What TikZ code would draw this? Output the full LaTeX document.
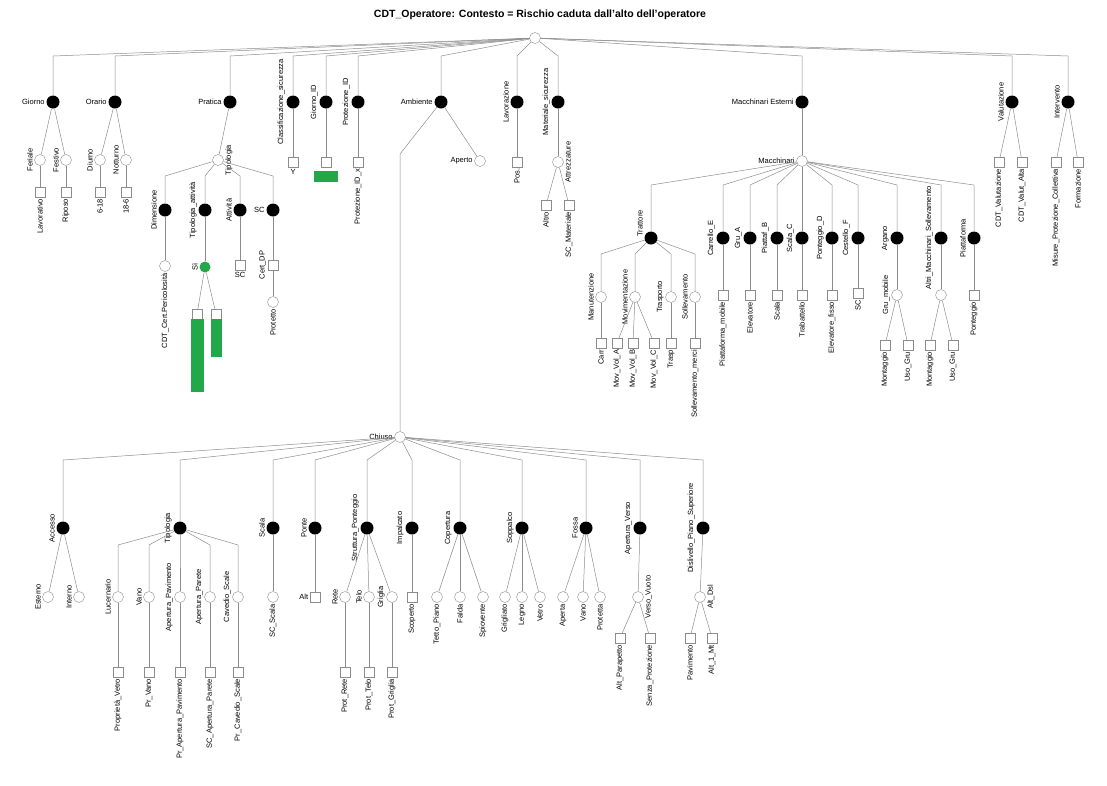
\documentclass[tikz,border=0pt]{standalone}
\usepackage{fontspec}
\setmainfont{Liberation Sans}
\usetikzlibrary{positioning}
\definecolor{mark}{RGB}{34,168,72}
\definecolor{wire}{RGB}{140,140,140}

\begin{document}
\begin{tikzpicture}[x=1pt, y=-1pt,
    hub/.style={circle, fill=black, minimum size=13pt, inner sep=0pt},
    opt/.style={circle, draw=wire, fill=white, minimum size=11pt, inner sep=0pt},
    leaf/.style={rectangle, draw=wire, fill=white, minimum size=10pt, inner sep=0pt},
    flag/.style={rectangle, fill=mark, inner sep=0pt},
    txt/.style={font=\fontsize{7.5}{8.5}\selectfont, inner sep=1.5pt},
    vtxt/.style={txt, rotate=90},
    lv/.style={label={[vtxt, anchor=south]left:#1}},
    rv/.style={label={[vtxt, anchor=north]right:#1}},
    bv/.style={label={[vtxt, anchor=east]below:#1}},
    lh/.style={label={[txt]left:#1}},
    bh/.style={label={[txt]below:#1}},
    link/.style={draw=wire, line width=0.5pt}
]
    \useasboundingbox (0,0) rectangle (1107,785);
    \node[font=\bfseries\fontsize{10.5}{12}\selectfont] (title) at (540,15) {CDT\_Operatore: Contesto = Rischio caduta dall'alto dell'operatore};
    \node[opt] (root) at (535,38) {};
    \coordinate (topbar) at (0,56);

    % primo livello
    \node[hub, lh=Giorno] (giorno) at (53,102) {};
    \node[hub, lh=Orario] (orario) at (115,102) {};
    \node[hub, lh=Pratica] (pratica) at (230,102) {};
    \node[hub, lv=Classificazione\_sicurezza] (classe) at (293,102) {};
    \node[hub, lv=Giorno\_ID] (gid) at (326,102) {};
    \node[hub, lv=Protezione\_ID] (pid) at (358,102) {};
    \node[hub, lh=Ambiente] (ambiente) at (441,102) {};
    \node[hub, lv=Lavorazione] (lavoro) at (517,102) {};
    \node[hub, lv=Materiale\_sicurezza] (materiale) at (558,102) {};
    \node[hub, lh=Macchinari Esterni] (macchine) at (802,102) {};
    \node[hub, lv=Valutazione] (valuta) at (1012,102) {};
    \node[hub, lv=Intervento] (interv) at (1068,102) {};
    \foreach \n in {giorno,orario,pratica,classe,gid,pid,ambiente,lavoro,materiale,macchine,valuta,interv}
        \draw[link] (root) -- (\n |- topbar) -- (\n);

    % giorno, orario
    \node[opt, lv=Feriale] (feriale) at (40,160) {};
    \node[opt, lv=Festivo] (festivo) at (66,160) {};
    \node[leaf, bv=Lavorativo] (lavorativo) at (40,192) {};
    \node[leaf, bv=Riposo] (riposo) at (66,192) {};
    \node[opt, lv=Diurno] (diurno) at (100,160) {};
    \node[opt, lv=Notturno] (notturno) at (126,160) {};
    \node[leaf, bv=6-18] (fascia1) at (100,192) {};
    \node[leaf, bv=18-6] (fascia2) at (126,192) {};

    % pratica
    \node[opt, rv=Tipologia] (tipo) at (218,160) {};
    \coordinate (tipobar) at (0,176);
    \node[hub, lv=Dimensione] (dim) at (165,210) {};
    \node[hub, lv=Tipologia\_attività] (tatt) at (205,210) {};
    \node[hub, lv=Attività] (att) at (240,210) {};
    \node[hub, lh=SC] (scpr) at (273,210) {};
    \foreach \n in {dim,tatt,att,scpr}
        \draw[link] (tipo) -- (\n |- tipobar) -- (\n);
    \node[opt, bv=CDT\_Cert.Pericolosità] (cert) at (165,266) {};
    \node[circle, fill=mark, minimum size=11pt, inner sep=0pt, lv=Sì] (verde) at (205,267) {};
    \node[leaf] (verde1) at (197,314) {};
    \node[leaf] (verde2) at (216,314) {};
    \node[flag, minimum width=13pt, minimum height=73pt, anchor=north] (barra1) at (verde1.south) {};
    \node[flag, minimum width=11pt, minimum height=38pt, anchor=north] (barra2) at (verde2.south) {};
    \node[leaf, bh=SC] (scatt) at (240,265) {};
    \node[leaf, lv=Cert\_DP] (certdp) at (273,265) {};
    \node[opt, bv=Protetto] (protetto) at (273,302) {};

    % classificazione, id
    \node[leaf, bh=Y] (ycl) at (293,162) {};
    \node[leaf] (gidleaf) at (326,162) {};
    \node[flag, minimum width=24pt, minimum height=11pt] (gidflag) at (326,176) {};
    \node[leaf, bv=Protezione\_ID\_x] (pidleaf) at (358,162) {};

    % ambiente
    \node[opt, lh=Aperto] (aperto) at (480,161) {};
    \node[opt, lh=Chiuso] (chiuso) at (400,437) {};
    \coordinate (kink) at (400,154);
    \draw[link] (ambiente) -- (kink) -- (chiuso);

    % lavorazione, materiale
    \node[leaf, bv=Pos.] (pos) at (517,162) {};
    \node[opt, rv=Attrezzature] (attrezz) at (558,162) {};
    \node[leaf, bv=Altro] (altro) at (546,205) {};
    \node[leaf, bv=SC\_Materiale] (scmat) at (569,205) {};

    % macchinari
    \node[opt, lh=Macchinari] (macch) at (802,161) {};
    \coordinate (macbar) at (0,185);
    \node[hub, label={[vtxt, anchor=south west]left:Trattore}] (trattore) at (651,238) {};
    \node[hub, lv=Carrello\_E] (carrello) at (723,238) {};
    \node[hub, lv=Gru\_A] (gru) at (750,238) {};
    \node[hub, lv=Piattaf\_B] (piatt) at (777,238) {};
    \node[hub, lv=Scala\_C] (scalam) at (802,238) {};
    \node[hub, lv=Ponteggio\_D] (ponteg) at (832,238) {};
    \node[hub, lv=Cestello\_F] (cestello) at (858,238) {};
    \node[hub, lv=Argano] (argano) at (897,238) {};
    \node[hub, lv=Altri\_Macchinari\_Sollevamento] (sollev) at (941,238) {};
    \node[hub, lv=Piattaforma] (piattf) at (974,238) {};
    \foreach \n in {trattore,carrello,gru,piatt,scalam,ponteg,cestello,argano,sollev,piattf}
        \draw[link] (macch) -- (\n |- macbar) -- (\n);

    \coordinate (tratbar) at (0,254);
    \node[opt, lv=Manutenzione] (manut) at (601,297) {};
    \node[opt, lv=Movimentazione] (movim) at (635,297) {};
    \node[opt, lv=Trasporto] (trasp) at (671,297) {};
    \node[opt, lv=Sollevamento] (sollv) at (695,297) {};
    \foreach \n in {manut,movim,trasp,sollv}
        \draw[link] (trattore) -- (\n |- tratbar) -- (\n);
    \node[leaf, bv=Carr] (tr1) at (601,343) {};
    \node[leaf, bv=Mov\_Vol\_A] (tr2) at (617,343) {};
    \node[leaf, bv=Mov\_Vol\_B] (tr3) at (633,343) {};
    \node[leaf, bv=Mov\_Vol\_C] (tr4) at (654,343) {};
    \node[leaf, bv=Trasp] (tr5) at (671,343) {};
    \node[leaf, bv=Sollevamento\_merci] (tr6) at (695,343) {};

    \node[leaf, bv=Piattaforma\_mobile] (m1) at (723,295) {};
    \node[leaf, bv=Elevatore] (m2) at (750,295) {};
    \node[leaf, bv=Scala] (m3) at (777,295) {};
    \node[leaf, bv=Trabattello] (m4) at (802,295) {};
    \node[leaf, bv=Elevatore\_fisso] (m5) at (832,295) {};
    \node[leaf, bv=SC] (m6) at (858,293) {};
    \node[opt, lv=Gru\_mobile] (m7) at (897,295) {};
    \node[leaf, bv=Montaggio] (m7a) at (885,345) {};
    \node[leaf, bv=Uso\_Gru] (m7b) at (908,345) {};
    \node[opt] (m8) at (941,295) {};
    \node[leaf, bv=Montaggio] (m8a) at (930,345) {};
    \node[leaf, bv=Uso\_Gru] (m8b) at (953,345) {};
    \node[leaf, bv=Ponteggio] (m9) at (974,295) {};

    % valutazione, intervento
    \node[leaf, bv=CDT\_Valutazione] (val1) at (999,162) {};
    \node[leaf, bv=CDT\_Valut\_Alta] (val2) at (1022,162) {};
    \node[leaf, bv=Misure\_Protezione\_Collettiva] (int1) at (1056,162) {};
    \node[leaf, bv=Formazione] (int2) at (1078,162) {};

    % chiuso
    \coordinate (chbar) at (0,460);
    \node[hub, lv=Accesso] (accesso) at (63,528) {};
    \node[hub, lv=Tipologia] (tipch) at (180,528) {};
    \node[hub, lv=Scala] (scala) at (273,528) {};
    \node[hub, lv=Ponte] (ponte) at (315,528) {};
    \node[hub, lv=Struttura\_Ponteggio] (strutt) at (367,528) {};
    \node[hub, lv=Impalcato] (impalc) at (412,528) {};
    \node[hub, lv=Copertura] (copert) at (460,528) {};
    \node[hub, lv=Soppalco] (soppalco) at (522,528) {};
    \node[hub, lv=Fossa] (fossa) at (586,528) {};
    \node[hub, lv=Apertura\_Verso] (apert) at (640,528) {};
    \node[hub, lv=Dislivello\_Piano\_Superiore] (disliv) at (703,528) {};
    \foreach \n in {accesso,tipch,scala,ponte,strutt,impalc,copert,soppalco,fossa,apert,disliv}
        \draw[link] (chiuso) -- (\n |- chbar) -- (\n);

    \node[opt, lv=Esterno] (esterno) at (48,597) {};
    \node[opt, lv=Interno] (interno) at (79,597) {};

    \coordinate (tcbar) at (0,545);
    \node[opt, lv=Lucernario] (tc1) at (118,597) {};
    \node[opt, lv=Vano] (tc2) at (149,597) {};
    \node[opt, lv=Apertura\_Pavimento] (tc3) at (180,597) {};
    \node[opt, lv=Apertura\_Parete] (tc4) at (210,597) {};
    \node[opt, lv=Cavedio\_Scale] (tc5) at (238,597) {};
    \foreach \n in {tc1,tc2,tc3,tc4,tc5}
        \draw[link] (tipch) -- (\n |- tcbar) -- (\n);
    \node[leaf, bv=Proprietà\_Vetro] (tp1) at (118,672) {};
    \node[leaf, bv=Pr\_Vano] (tp2) at (149,672) {};
    \node[leaf, bv=Pr\_Apertura\_Pavimento] (tp3) at (180,672) {};
    \node[leaf, bv=SC\_Apertura\_Parete] (tp4) at (210,672) {};
    \node[leaf, bv=Pr\_Cavedio\_Scale] (tp5) at (238,672) {};

    \node[opt, bv=SC\_Scala] (scsc) at (273,597) {};
    \node[leaf, lh=Alt] (alt) at (315,597) {};
    \node[opt, lv=Rete] (st1) at (345,597) {};
    \node[opt, lv=Telo] (st2) at (369,597) {};
    \node[opt, lv=Griglia] (st3) at (392,597) {};
    \node[leaf, bv=Prot\_Rete] (sp1) at (345,672) {};
    \node[leaf, bv=Prot\_Telo] (sp2) at (369,672) {};
    \node[leaf, bv=Prot\_Griglia] (sp3) at (392,672) {};
    \node[leaf, bv=Scoperto] (scop) at (412,597) {};
    \node[opt, bv=Tetto\_Piano] (co1) at (437,597) {};
    \node[opt, bv=Falda] (co2) at (460,597) {};
    \node[opt, bv=Spiovente] (co3) at (483,597) {};
    \node[opt, bv=Grigliato] (so1) at (505,597) {};
    \node[opt, bv=Legno] (so2) at (522,597) {};
    \node[opt, bv=Vetro] (so3) at (540,597) {};
    \node[opt, bv=Aperta] (fo1) at (563,597) {};
    \node[opt, bv=Vano] (fo2) at (583,597) {};
    \node[opt, bv=Protetta] (fo3) at (600,597) {};
    \node[opt, rv=Verso\_Vuoto] (vuoto) at (638,597) {};
    \node[leaf, bv=Alt\_Parapetto] (av1) at (620,638) {};
    \node[leaf, bv=Senza\_Protezione] (av2) at (650,638) {};
    \node[opt, rv=Alt\_Dsl] (altdsl) at (700,597) {};
    \node[leaf, bv=Pavimento] (dl1) at (690,638) {};
    \node[leaf, bv=Alt\_1\_Mt] (dl2) at (712,638) {};

    % collegamenti diretti
    \foreach \a/\b in {giorno/feriale, giorno/festivo, feriale/lavorativo, festivo/riposo,
        orario/diurno, orario/notturno, diurno/fascia1, notturno/fascia2,
        pratica/tipo, dim/cert, tatt/verde, verde/verde1, verde/verde2, att/scatt,
        scpr/certdp, certdp/protetto, classe/ycl, gid/gidleaf, pid/pidleaf,
        ambiente/aperto, lavoro/pos, materiale/attrezz, attrezz/altro, attrezz/scmat,
        macchine/macch, manut/tr1, movim/tr2, movim/tr3, movim/tr4, trasp/tr5, sollv/tr6,
        carrello/m1, gru/m2, piatt/m3, scalam/m4, ponteg/m5, cestello/m6,
        argano/m7, m7/m7a, m7/m7b, sollev/m8, m8/m8a, m8/m8b, piattf/m9,
        valuta/val1, valuta/val2, interv/int1, interv/int2,
        accesso/esterno, accesso/interno, tc1/tp1, tc2/tp2, tc3/tp3, tc4/tp4, tc5/tp5,
        scala/scsc, ponte/alt, strutt/st1, strutt/st2, strutt/st3,
        st1/sp1, st2/sp2, st3/sp3, impalc/scop, copert/co1, copert/co2, copert/co3,
        soppalco/so1, soppalco/so2, soppalco/so3, fossa/fo1, fossa/fo2, fossa/fo3,
        apert/vuoto, vuoto/av1, vuoto/av2, disliv/altdsl, altdsl/dl1, altdsl/dl2}
        \draw[link] (\a) -- (\b);
\end{tikzpicture}
\end{document}
